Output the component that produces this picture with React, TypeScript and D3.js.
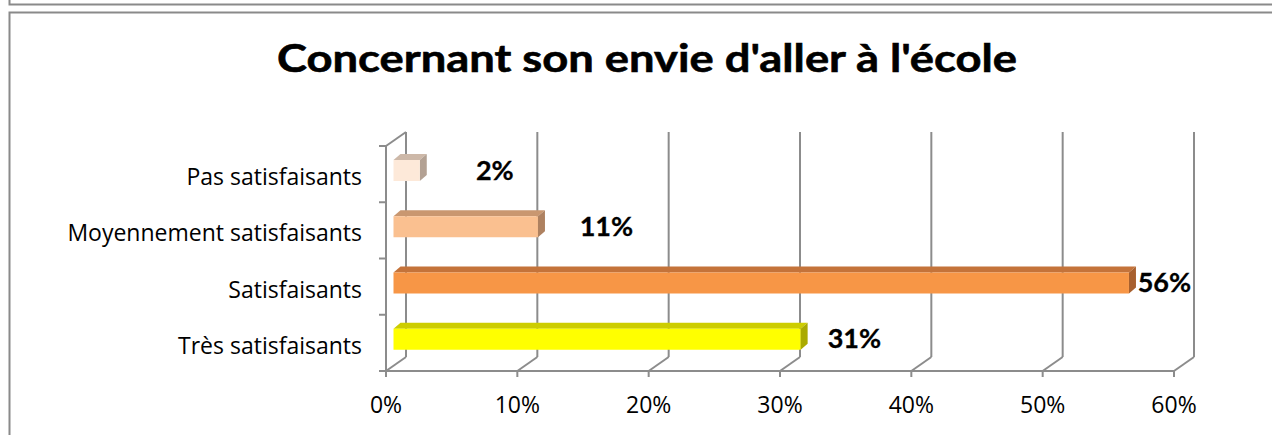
import React from "react";
import * as d3 from "d3";

const categories = ["Très satisfaisants", "Satisfaisants", "Moyennement satisfaisants", "Pas satisfaisants"];
const values = [31, 56, 11, 2];
const valueLabels = ["31%", "56%", "11%", "2%"];
const frontColors = ["#FFFF00", "#F79646", "#FAC090", "#FDE9D9"];
const topColors = ["#CDCD00", "#C4733A", "#C99770", "#CDB8A8"];
const sideColors = ["#AAAA00", "#A8602E", "#AE8160", "#B3A193"];
const tickValues = [0, 10, 20, 30, 40, 50, 60];
const title = "Concernant son envie d'aller à l'école";

const W = 1272;
const H = 435;
const FONT = "'Open Sans', 'Noto Sans', sans-serif";
const BOLD_FONT = "Lato, 'Open Sans', sans-serif";
const GRID = "#8C8C8C";

export default function App() {
  // front plane scales
  const xF = d3.scaleLinear().domain([0, 60]).range([386, 1174]);
  const yBand = d3.scaleBand<string>().domain([...categories].reverse()).range([146, 371]);
  const depth = { dx: 20, dy: -14 };
  const barOffset = { dx: 7.5, dy: -5.6 };
  const barDepth = { dx: 7, dy: -6 };
  const barH = 21;
  const labelScale = d3.scaleLinear().domain([0, 60]).range([470, 1214]);
  const bw = yBand.bandwidth();
  const yTop = yBand.range()[0];
  const yBot = yBand.range()[1];

  return (
    <svg width={W} height={H} style={{ position: "absolute", left: 0, top: 0, background: "#fff" }}>
      {/* frames */}
      <path d={`M9.5,0 V4.5 H${W}`} fill="none" stroke="#8A8A8A" strokeWidth={2} />
      <path d={`M9.5,${H} V12.5 H${W}`} fill="none" stroke="#8A8A8A" strokeWidth={2} />

      <text x={647} y={72} textAnchor="middle" fontFamily={BOLD_FONT} fontWeight={700} fontSize={39}
        textLength={740} lengthAdjust="spacingAndGlyphs" fill="#000" stroke="#000" strokeWidth={0.6}>{title}</text>

      {/* back wall gridlines */}
      {tickValues.map((t) => (
        <line key={"g" + t} x1={xF(t) + depth.dx} x2={xF(t) + depth.dx} y1={yTop + depth.dy} y2={yBot + depth.dy}
          stroke={GRID} strokeWidth={2} />
      ))}
      {/* floor diagonals */}
      {tickValues.map((t) => (
        <line key={"f" + t} x1={xF(t)} x2={xF(t) + depth.dx} y1={yBot} y2={yBot + depth.dy}
          stroke={GRID} strokeWidth={2} />
      ))}
      {/* front floor axis line */}
      <line x1={xF(0)} x2={xF(60)} y1={yBot} y2={yBot} stroke={GRID} strokeWidth={2} />
      {tickValues.map((t) => (
        <line key={"tk" + t} x1={xF(t)} x2={xF(t)} y1={yBot} y2={yBot + 6} stroke={GRID} strokeWidth={2} />
      ))}
      {/* left wall */}
      <line x1={xF(0)} x2={xF(0)} y1={yTop} y2={yBot} stroke={GRID} strokeWidth={2} />
      <line x1={xF(0)} x2={xF(0) + depth.dx} y1={yTop} y2={yTop + depth.dy} stroke={GRID} strokeWidth={2} />
      {[...yBand.domain().map((c) => yBand(c) as number), yBot].map((y, i) => (
        <line key={"lt" + i} x1={xF(0) - 7} x2={xF(0)} y1={y} y2={y} stroke={GRID} strokeWidth={2} />
      ))}

      {/* tick labels */}
      {tickValues.map((t) => (
        <text key={"tl" + t} x={xF(t)} y={413} textAnchor="middle" fontFamily={FONT} fontSize={23} fill="#000">
          {t + "%"}
        </text>
      ))}

      {/* category labels */}
      {categories.map((c) => (
        <text key={"c" + c} x={362} y={(yBand(c) as number) + bw / 2 + 11} textAnchor="end" fontFamily={FONT}
          fontSize={23} fill="#000">{c}</text>
      ))}

      {/* bars */}
      {categories.map((c, i) => {
        const x0 = xF(0) + barOffset.dx;
        const x1 = xF(values[i]) + barOffset.dx;
        const y0 = (yBand(c) as number) + 14;
        const y1 = y0 + barH;
        const { dx, dy } = barDepth;
        return (
          <g key={"b" + c}>
            <polygon points={`${x0},${y0} ${x1},${y0} ${x1 + dx},${y0 + dy} ${x0 + dx},${y0 + dy}`} fill={topColors[i]} />
            <polygon points={`${x1},${y0} ${x1 + dx},${y0 + dy} ${x1 + dx},${y1 + dy} ${x1},${y1}`} fill={sideColors[i]} />
            <rect x={x0} y={y0} width={x1 - x0} height={barH} fill={frontColors[i]} />
          </g>
        );
      })}

      {/* value labels */}
      {categories.map((c, i) => (
        <text key={"v" + c} x={labelScale(values[i])} y={(yBand(c) as number) + 14 + barH / 2 + 9}
          textAnchor="middle" fontFamily={BOLD_FONT} fontWeight={700} fontSize={27} fill="#000"
          stroke="#000" strokeWidth={0.3}>
          {valueLabels[i]}
        </text>
      ))}
    </svg>
  );
}
